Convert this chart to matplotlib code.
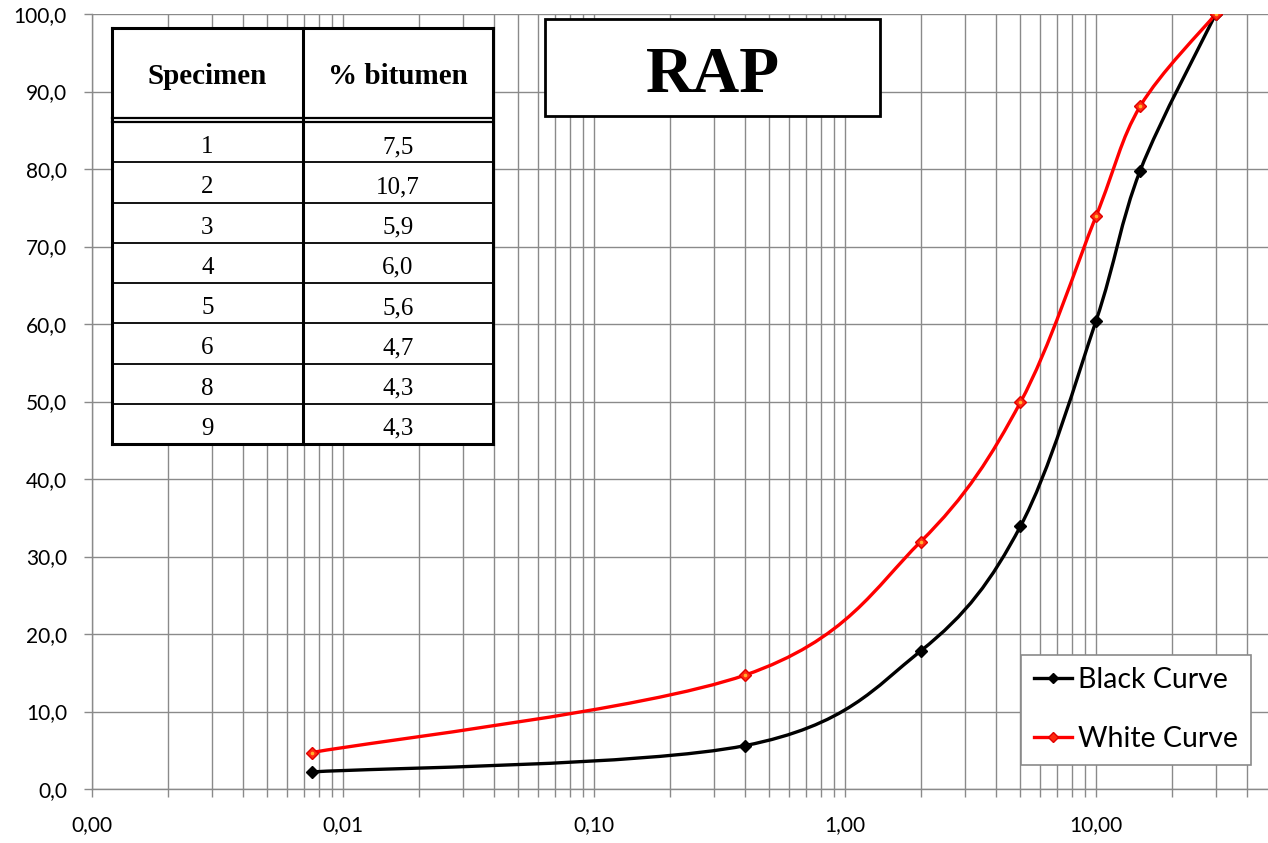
import numpy as np
import matplotlib
matplotlib.use("Agg")
import matplotlib.pyplot as plt
from matplotlib.path import Path
from matplotlib.patches import PathPatch, Rectangle
from matplotlib.lines import Line2D
from matplotlib.ticker import FixedLocator, LogLocator, FuncFormatter, NullFormatter

# === Datos ===
sieve_mm = [0.0075, 0.4, 2.0, 5.0, 10.0, 15.0, 30.0]
black_curve = [2.2, 5.6, 17.8, 33.9, 60.4, 79.8, 100.0]
white_curve = [4.7, 14.7, 31.9, 49.9, 73.9, 88.1, 100.0]

specimens = ["1", "2", "3", "4", "5", "6", "8", "9"]
bitumen = ["7,5", "10,7", "5,9", "6,0", "5,6", "4,7", "4,3", "4,3"]

x_ticks = [0.001, 0.01, 0.1, 1, 10]
y_ticks = list(range(0, 101, 10))

W, H = 1268, 843

plt.rcParams["font.family"] = ["Lato", "DejaVu Sans"]


def smooth_path(xs, ys, sx=251.0, sy=7.75):
    # curva suavizada tipo Excel (Bezier con puntos de control Catmull-Rom)
    u = np.log10(xs) * sx
    v = np.array(ys) * sy
    n = len(u)
    verts = [(xs[0], ys[0])]
    codes = [Path.MOVETO]
    for i in range(n - 1):
        i0 = max(i - 1, 0)
        i3 = min(i + 2, n - 1)
        c1u = u[i] + (u[i + 1] - u[i0]) / 6
        c1v = v[i] + (v[i + 1] - v[i0]) / 6
        c2u = u[i + 1] - (u[i3] - u[i]) / 6
        c2v = v[i + 1] - (v[i3] - v[i]) / 6
        verts += [(10 ** (c1u / sx), c1v / sy), (10 ** (c2u / sx), c2v / sy),
                  (xs[i + 1], ys[i + 1])]
        codes += [Path.CURVE4] * 3
    return Path(verts, codes)


# === Figura ===
fig = plt.figure(figsize=(W / 100, H / 100), dpi=100)
ax = fig.add_axes([92 / W, 1 - 789 / H, 1 - 92 / W, (789 - 14) / H])

ax.set_xscale("log")
ax.set_xlim(0.001, 10 ** ((1268 - 92) / 251 - 3))
ax.set_ylim(0, 100)

grid_c = "#8a8a8a"
ax.xaxis.set_major_locator(FixedLocator(x_ticks))
ax.xaxis.set_minor_locator(LogLocator(base=10, subs=np.arange(2, 10), numticks=20))
ax.xaxis.set_major_formatter(FuncFormatter(lambda v, p: f"{v:.2f}".replace(".", ",")))
ax.xaxis.set_minor_formatter(NullFormatter())
ax.yaxis.set_major_locator(FixedLocator(y_ticks))
ax.yaxis.set_major_formatter(FuncFormatter(lambda v, p: f"{v:.1f}".replace(".", ",")))

ax.grid(True, which="both", axis="x", color=grid_c, linewidth=1.0)
ax.grid(True, which="major", axis="y", color=grid_c, linewidth=1.0)
ax.set_axisbelow(True)

for s in ["top", "right"]:
    ax.spines[s].set_visible(False)
for s in ["left", "bottom"]:
    ax.spines[s].set_color(grid_c)
    ax.spines[s].set_linewidth(1.0)

ax.tick_params(axis="both", which="both", direction="out", color=grid_c,
               length=6, width=1.0, labelsize=15)
ax.tick_params(axis="y", pad=12)
ax.tick_params(axis="x", pad=13)

# curvas
ax.add_patch(PathPatch(smooth_path(sieve_mm, black_curve), fill=False,
                       edgecolor="black", linewidth=2.4, zorder=3))
ax.add_patch(PathPatch(smooth_path(sieve_mm, white_curve), fill=False,
                       edgecolor="#ff0000", linewidth=2.4, zorder=3))
ax.plot(sieve_mm, black_curve, linestyle="none", marker="D", markersize=6.5,
        color="black", zorder=4)
ax.plot(sieve_mm, white_curve, linestyle="none", marker="D", markersize=6.5,
        markerfacecolor="#ff2a10", markeredgecolor="#e00000", zorder=4)
ax.plot(sieve_mm, white_curve, linestyle="none", marker="o", markersize=1.6,
        color="#ffb030", zorder=5)

# leyenda
handles = [
    Line2D([], [], color="black", linewidth=2.4, marker="D", markersize=5),
    Line2D([], [], color="#ff0000", linewidth=2.4, marker="D", markersize=5,
           markerfacecolor="#ff2a10", markeredgecolor="#e00000"),
]
leg = fig.legend(handles, ["Black Curve", "White Curve"],
                 loc="lower right", bbox_to_anchor=(1251 / W, 1 - 765 / H),
                 prop={"family": "Lato", "size": 20.5}, frameon=True, fancybox=False,
                 edgecolor=grid_c, framealpha=1, handlelength=1.35,
                 handletextpad=0.2, labelspacing=1.15, borderpad=0.45,
                 borderaxespad=0)
leg.get_frame().set_linewidth(1.2)


# === Tabla ===
def fx(px):
    return px / W


def fy(py):
    return 1 - py / H


tl, tm, tr = 112, 303, 493
ttop, thead, tbot = 28, 118, 444
fig.add_artist(Rectangle((fx(tl), fy(tbot)), fx(tr) - fx(tl), fy(ttop) - fy(tbot),
                         transform=fig.transFigure, facecolor="white",
                         edgecolor="none", zorder=5))
row_top = 122
row_h = (tbot - row_top) / len(specimens)
lines = [((tl, tr), (ttop, ttop), 2.2), ((tl, tr), (tbot, tbot), 2.2),
         ((tl, tl), (ttop, tbot), 2.2), ((tr, tr), (ttop, tbot), 2.2),
         ((tm, tm), (ttop, tbot), 2.2), ((tl, tr), (thead, thead), 1.6),
         ((tl, tr), (row_top, row_top), 1.6)]
for i in range(1, len(specimens)):
    yy = row_top + i * row_h
    lines.append(((tl, tr), (yy, yy), 1.3))
for (x0, x1), (y0, y1), lw in lines:
    fig.add_artist(Line2D([fx(x0), fx(x1)], [fy(y0), fy(y1)],
                          transform=fig.transFigure, color="black",
                          linewidth=lw, zorder=6))

serif = "Liberation Serif"
fig.text(fx((tl + tm) / 2), fy(84), "Specimen", ha="center",
         va="baseline", family=serif, weight="bold", size=21, zorder=7)
fig.text(fx((tm + tr) / 2), fy(84), "% bitumen", ha="center",
         va="baseline", family=serif, weight="bold", size=21, zorder=7)
for i, (sp, bt) in enumerate(zip(specimens, bitumen)):
    yb = row_top + (i + 0.5) * row_h + 11
    fig.text(fx((tl + tm) / 2), fy(yb), sp, ha="center", va="baseline",
             family=serif, size=18, zorder=7)
    fig.text(fx((tm + tr) / 2), fy(yb), bt, ha="center", va="baseline",
             family=serif, size=18, zorder=7)

# === Caja de título ===
fig.add_artist(Rectangle((fx(545), fy(116)), fx(880) - fx(545), fy(19) - fy(116),
                         transform=fig.transFigure, facecolor="white",
                         edgecolor="black", linewidth=2.0, zorder=5))
fig.text(fx(713), fy(92), "RAP", ha="center", va="baseline",
         family=serif, weight="bold", size=47, zorder=7)

plt.savefig("out.png", dpi=100)
